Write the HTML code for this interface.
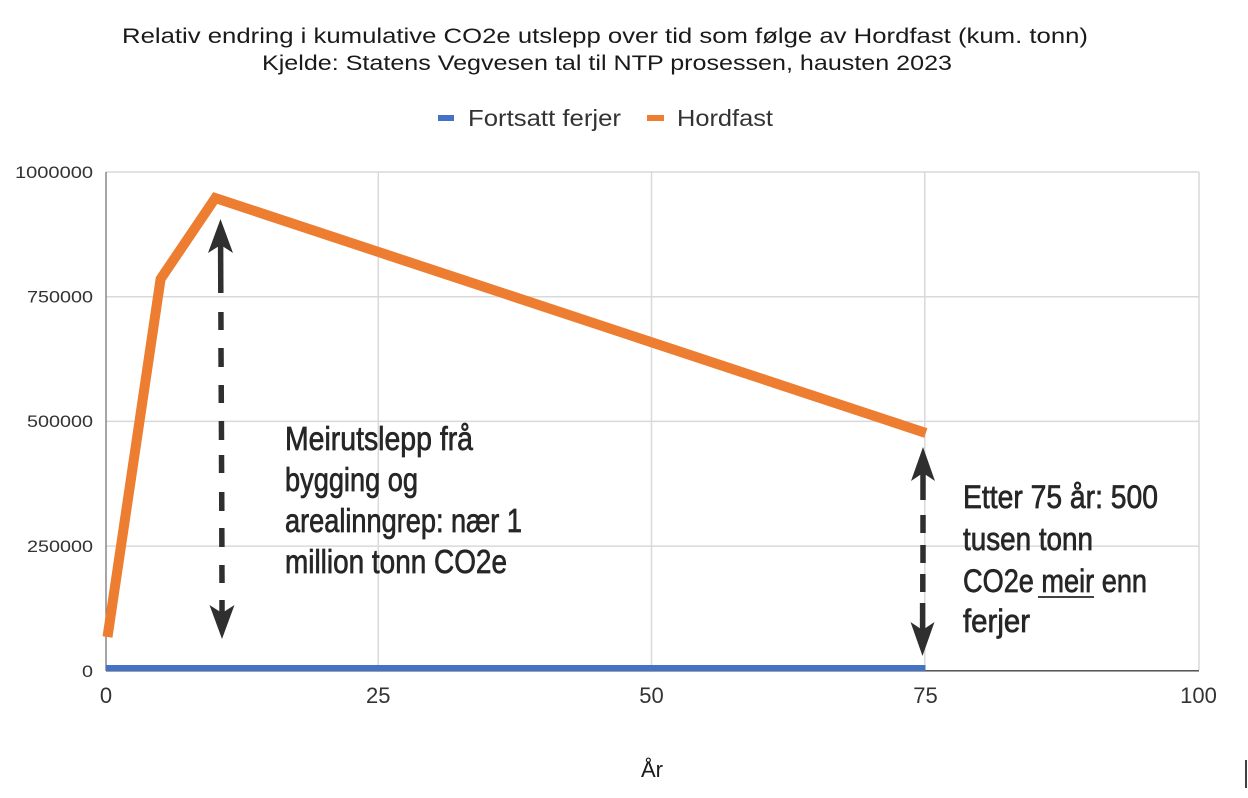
<!DOCTYPE html>
<html>
<head>
<meta charset="utf-8">
<style>
  html, body { margin: 0; padding: 0; background: #ffffff; }
  svg { display: block; }
</style>
</head>
<body>
<svg width="1248" height="798" viewBox="0 0 1248 798" xmlns="http://www.w3.org/2000/svg">
  <rect x="0" y="0" width="1248" height="798" fill="#ffffff"/>

  <!-- Title -->
  <g font-family="'Liberation Sans', sans-serif" font-size="21" fill="#1a1a1a">
    <text x="122" y="43" textLength="966" lengthAdjust="spacingAndGlyphs">Relativ endring i kumulative CO2e utslepp over tid som følge av Hordfast (kum. tonn)</text>
    <text x="262" y="70" textLength="690" lengthAdjust="spacingAndGlyphs">Kjelde: Statens Vegvesen tal til NTP prosessen, hausten 2023</text>
  </g>

  <!-- Legend -->
  <rect x="438" y="115" width="16" height="6" fill="#4472C4"/>
  <rect x="647" y="115" width="17" height="6" fill="#ED7D31"/>
  <g font-family="'Liberation Sans', sans-serif" font-size="23" fill="#333333">
    <text x="468" y="126" textLength="153" lengthAdjust="spacingAndGlyphs">Fortsatt ferjer</text>
    <text x="677" y="126" textLength="96" lengthAdjust="spacingAndGlyphs">Hordfast</text>
  </g>

  <!-- Gridlines -->
  <g stroke="#d9d9d9" stroke-width="1.5" fill="none">
    <line x1="106" y1="172" x2="1199" y2="172"/>
    <line x1="106" y1="296.7" x2="1199" y2="296.7"/>
    <line x1="106" y1="421.4" x2="1199" y2="421.4"/>
    <line x1="106" y1="546.1" x2="1199" y2="546.1"/>
    <line x1="378.3" y1="172" x2="378.3" y2="670"/>
    <line x1="651.5" y1="172" x2="651.5" y2="670"/>
    <line x1="924.8" y1="172" x2="924.8" y2="670"/>
    <line x1="1199" y1="172" x2="1199" y2="670"/>
  </g>

  <!-- Axes -->
  <line x1="106" y1="172" x2="106" y2="671" stroke="#6b6b6b" stroke-width="1.2"/>
  <line x1="106" y1="670.8" x2="1199" y2="670.8" stroke="#404040" stroke-width="1.3"/>

  <!-- Y tick labels -->
  <g font-family="'Liberation Sans', sans-serif" font-size="17" fill="#333333" text-anchor="end">
    <text x="93" y="178" textLength="78" lengthAdjust="spacingAndGlyphs">1000000</text>
    <text x="93" y="302.5" textLength="66" lengthAdjust="spacingAndGlyphs">750000</text>
    <text x="93" y="427" textLength="66" lengthAdjust="spacingAndGlyphs">500000</text>
    <text x="93" y="552" textLength="66" lengthAdjust="spacingAndGlyphs">250000</text>
    <text x="93" y="677" textLength="11" lengthAdjust="spacingAndGlyphs">0</text>
  </g>

  <!-- X tick labels -->
  <g font-family="'Liberation Sans', sans-serif" font-size="22" fill="#333333" text-anchor="middle">
    <text x="106" y="703">0</text>
    <text x="378.3" y="703">25</text>
    <text x="651.5" y="703">50</text>
    <text x="925.5" y="703">75</text>
    <text x="1198.5" y="703">100</text>
  </g>

  <!-- X axis title -->
  <text x="652" y="777" font-family="'Liberation Sans', sans-serif" font-size="22" fill="#1a1a1a" text-anchor="middle">År</text>

  <!-- Series: Fortsatt ferjer -->
  <line x1="106" y1="668" x2="925.5" y2="668" stroke="#4472C4" stroke-width="6"/>

  <!-- Series: Hordfast -->
  <polyline points="107.5,637 160.6,279 215.3,198 925.8,433" fill="none" stroke="#ED7D31" stroke-width="10" stroke-linejoin="miter" stroke-miterlimit="10" stroke-linecap="butt"/>

  <!-- Left arrow -->
  <g fill="#2f2f2f">
    <polygon points="220.5,219 233,253 220.7,245 208,253"/>
    <polygon points="222,639 234.5,605 222,613 209.5,605"/>
  </g>
  <g stroke="#2f2f2f" stroke-width="5.5" fill="none">
    <line x1="220.6" y1="245" x2="220.8" y2="293"/>
    <line x1="220.9" y1="312" x2="221" y2="330"/>
    <line x1="221" y1="348" x2="221.1" y2="367"/>
    <line x1="221.2" y1="385" x2="221.3" y2="403"/>
    <line x1="221.4" y1="421" x2="221.5" y2="440"/>
    <line x1="221.5" y1="455" x2="221.6" y2="473"/>
    <line x1="221.7" y1="492" x2="221.8" y2="511"/>
    <line x1="221.8" y1="528" x2="221.9" y2="547"/>
    <line x1="221.9" y1="565" x2="222" y2="583"/>
    <line x1="222" y1="600" x2="222" y2="613"/>
  </g>

  <!-- Right arrow -->
  <g fill="#2f2f2f">
    <polygon points="923,447 935,481 923,473 911,481"/>
    <polygon points="922.5,656 934.5,622 922.5,630 910.5,622"/>
  </g>
  <g stroke="#2f2f2f" stroke-width="5.5" fill="none">
    <line x1="923" y1="473" x2="923" y2="500"/>
    <line x1="923" y1="515" x2="923" y2="533"/>
    <line x1="923" y1="545" x2="923" y2="563"/>
    <line x1="922.8" y1="574" x2="922.8" y2="592"/>
    <line x1="922.6" y1="603" x2="922.6" y2="630"/>
  </g>

  <!-- Annotation left -->
  <g font-family="'Liberation Sans Narrow', 'Liberation Sans', sans-serif" font-size="33" fill="#262626" stroke="#262626" stroke-width="0.7">
    <text x="285" y="450" textLength="188" lengthAdjust="spacingAndGlyphs">Meirutslepp frå</text>
    <text x="285" y="491" textLength="133" lengthAdjust="spacingAndGlyphs">bygging og</text>
    <text x="285" y="532" textLength="237" lengthAdjust="spacingAndGlyphs">arealinngrep: nær 1</text>
    <text x="285" y="573" textLength="222" lengthAdjust="spacingAndGlyphs">million tonn CO2e</text>
  </g>

  <!-- Annotation right -->
  <g font-family="'Liberation Sans Narrow', 'Liberation Sans', sans-serif" font-size="32" fill="#262626" stroke="#262626" stroke-width="0.7">
    <text x="963" y="508" textLength="195" lengthAdjust="spacingAndGlyphs">Etter 75 år: 500</text>
    <text x="963" y="550" textLength="130" lengthAdjust="spacingAndGlyphs">tusen tonn</text>
    <text x="963" y="592" textLength="184" lengthAdjust="spacingAndGlyphs">CO2e meir enn</text>
    <text x="963" y="632" textLength="67" lengthAdjust="spacingAndGlyphs">ferjer</text>
  </g>
  <line x1="1038" y1="597" x2="1094" y2="597" stroke="#262626" stroke-width="1.8"/>

  <!-- Edge mark bottom right -->
  <line x1="1246" y1="760" x2="1246" y2="788" stroke="#000000" stroke-width="1.5"/>
</svg>
</body>
</html>
